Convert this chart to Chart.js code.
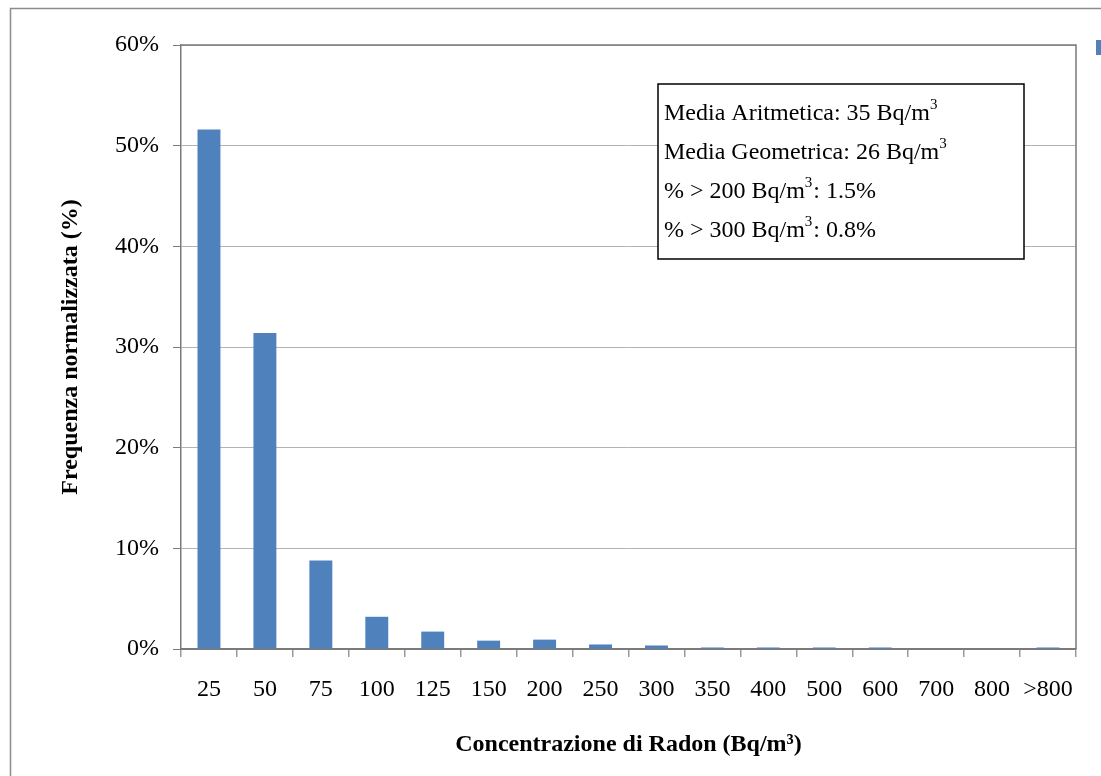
<!DOCTYPE html>
<html>
<head>
<meta charset="utf-8">
<script src="https://cdn.jsdelivr.net/npm/chart.js@4.4.1/dist/chart.umd.min.js"></script>
<style>
  html, body { margin: 0; padding: 0; background: #fff; }
  #wrap { width: 1101px; height: 776px; }
</style>
</head>
<body>
<div id="wrap"><canvas id="c" width="1101" height="776"></canvas></div>
<script>
// Classi di concentrazione (Bq/m3) e frequenza normalizzata (%)
const categories = ['25', '50', '75', '100', '125', '150', '200', '250', '300', '350', '400', '500', '600', '700', '800', '>800'];
const frequenze = [51.6, 31.4, 8.8, 3.2, 1.73, 0.83, 0.93, 0.45, 0.35, 0.15, 0.15, 0.15, 0.15, 0, 0, 0.15];
const yTickValues = [0, 10, 20, 30, 40, 50, 60];

// Riquadro statistiche: ogni riga è una lista di [testo, apice]
const statLines = [
  [['Media Aritmetica: 35 Bq/m', false], ['3', true]],
  [['Media Geometrica: 26 Bq/m', false], ['3', true]],
  [['% > 200 Bq/m', false], ['3', true], [': 1.5%', false]],
  [['% > 300 Bq/m', false], ['3', true], [': 0.8%', false]]
];

const SERIF = '"Liberation Serif", "Times New Roman", serif';
const BAR_COLOR = '#4F81BD';

// cornice esterna, bordo dell'area del grafico, riquadro statistiche, marcatore legenda
const decorations = {
  id: 'decorations',
  beforeDraw(chart) {
    const ctx = chart.ctx;
    ctx.save();
    ctx.fillStyle = '#fff';
    ctx.fillRect(0, 0, chart.width, chart.height);
    ctx.strokeStyle = '#8c8c8c';
    ctx.lineWidth = 1.5;
    ctx.strokeRect(10.5, 8.5, chart.width + 50, chart.height + 50);
    ctx.restore();
  },
  afterDatasetsDraw(chart) {
    const ctx = chart.ctx;
    const a = chart.chartArea;
    ctx.save();
    ctx.strokeStyle = '#7a7a7a';
    ctx.lineWidth = 1.5;
    ctx.beginPath();
    ctx.moveTo(a.left, a.top);
    ctx.lineTo(a.right, a.top);
    ctx.lineTo(a.right, a.bottom);
    ctx.stroke();
    ctx.restore();
  },
  afterDraw(chart) {
    const ctx = chart.ctx;
    ctx.save();
    // riquadro con le statistiche
    const bx = 658, by = 84, bw = 366, bh = 175;
    ctx.fillStyle = '#fff';
    ctx.fillRect(bx, by, bw, bh);
    ctx.strokeStyle = '#000';
    ctx.lineWidth = 1.5;
    ctx.strokeRect(bx, by, bw, bh);
    ctx.fillStyle = '#000';
    ctx.textBaseline = 'alphabetic';
    ctx.textAlign = 'left';
    const baselines = [120, 159, 198, 237];
    statLines.forEach((parts, i) => {
      let x = bx + 6;
      const y = baselines[i];
      parts.forEach(([txt, sup]) => {
        ctx.font = (sup ? '15px ' : '24px ') + SERIF;
        ctx.fillText(txt, x, sup ? y - 11 : y);
        x += ctx.measureText(txt).width + (sup ? 1 : 0);
      });
    });
    // marcatore della legenda, tagliato dal bordo destro
    ctx.fillStyle = chart.data.datasets[0].backgroundColor;
    ctx.fillRect(1096, 40, 10, 15);
    ctx.restore();
  }
};

new Chart(document.getElementById('c'), {
  type: 'bar',
  data: {
    labels: categories,
    datasets: [{
      label: 'Frequenza',
      data: frequenze,
      backgroundColor: BAR_COLOR,
      borderWidth: 0,
      categoryPercentage: 1.0,
      barPercentage: 0.41
    }]
  },
  options: {
    responsive: false,
    animation: false,
    devicePixelRatio: 1,
    layout: { padding: { top: 45, right: 25, left: 0, bottom: 0 } },
    plugins: {
      legend: { display: false },
      tooltip: { enabled: false },
      title: { display: false }
    },
    scales: {
      x: {
        grid: {
          offset: true,
          drawOnChartArea: false,
          drawTicks: true,
          tickLength: 8,
          color: '#9a9a9a',
          lineWidth: 1.5
        },
        border: { color: '#7a7a7a', width: 2 },
        ticks: {
          color: '#000',
          font: { family: SERIF, size: 24 },
          padding: 18,
          maxRotation: 0,
          autoSkip: false
        },
        title: {
          display: true,
          text: 'Concentrazione di Radon (Bq/m³)',
          color: '#000',
          font: { family: SERIF, size: 24, weight: 'bold' },
          padding: { top: 0, bottom: 17 }
        },
        afterFit(scale) { scale.height = 127; }
      },
      y: {
        min: 0,
        max: 60,
        afterBuildTicks(scale) { scale.ticks = yTickValues.map(v => ({ value: v })); },
        grid: {
          color: '#b3b3b3',
          lineWidth: 1,
          tickLength: 8,
          tickColor: '#7a7a7a'
        },
        border: { color: '#7a7a7a', width: 1.5 },
        ticks: {
          color: '#000',
          font: { family: SERIF, size: 24 },
          padding: 14,
          callback: v => v + '%'
        },
        title: {
          display: true,
          text: 'Frequenza normalizzata (%)',
          color: '#000',
          font: { family: SERIF, size: 24, weight: 'bold' },
          padding: { top: 56, bottom: 0 }
        },
        afterFit(scale) { scale.width = 181; }
      }
    }
  },
  plugins: [decorations]
});
</script>
</body>
</html>
